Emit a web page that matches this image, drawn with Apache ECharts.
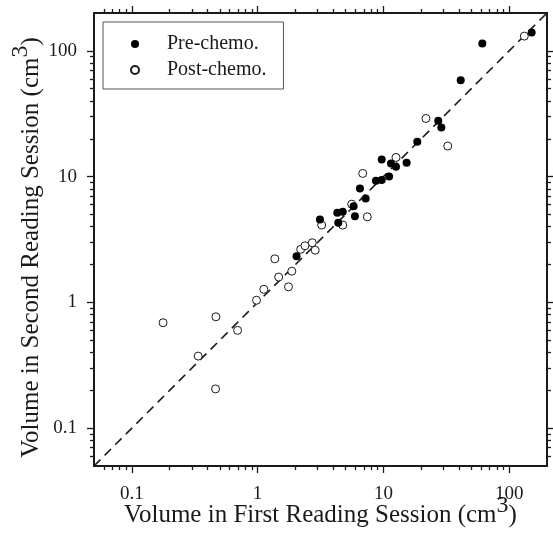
<!DOCTYPE html>
<html>
<head>
<meta charset="utf-8">
<script src="https://cdn.jsdelivr.net/npm/echarts@6/dist/echarts.min.js"></script>
<style>
  html, body { margin: 0; padding: 0; background: #fff; }
  #chart { width: 553px; height: 536px; }
</style>
</head>
<body>
<div id="chart"></div>
<script>
// volumes (cm3): [first reading, second reading]
const preChemo = [
  [2.04, 2.33], [3.13, 4.57], [4.3, 5.16], [4.75, 5.25], [4.38, 4.29],
  [5.94, 4.85], [5.8, 5.8], [7.23, 6.71], [6.51, 8.06], [8.73, 9.26],
  [9.7, 9.4], [11.1, 10.0], [9.7, 13.7], [11.5, 12.7], [12.6, 12.0],
  [15.3, 12.9], [18.6, 18.9], [27.3, 27.8], [28.9, 24.6], [41.2, 58.5],
  [61.2, 114.5], [151, 140]
]
const postChemo = [
  [0.177, 0.689], [0.466, 0.768], [0.693, 0.599], [0.337, 0.374], [0.463, 0.205],
  [0.98, 1.04], [1.12, 1.27], [1.37, 2.22], [1.47, 1.59], [1.76, 1.33],
  [1.87, 1.77], [2.2, 2.64], [2.38, 2.82], [2.72, 2.98], [2.87, 2.6],
  [3.23, 4.12], [4.75, 4.12], [5.6, 6.04], [7.45, 4.79], [6.85, 10.6],
  [12.6, 14.2], [21.8, 29.0], [32.5, 17.5], [132, 131]
]
const identityLine = [[0.05, 0.05], [200, 200]]
const axisMin = 0.05
const axisMax = 200
const majorTicks = [0.1, 1, 10, 100]
const minorTicks = [
  0.06, 0.07, 0.08, 0.09,
  0.2, 0.3, 0.4, 0.5, 0.6, 0.7, 0.8, 0.9,
  2, 3, 4, 5, 6, 7, 8, 9,
  20, 30, 40, 50, 60, 70, 80, 90
]

const FONT = 'Liberation Serif'
const INK = '#1a1a1a'

// axis title with a raised "3"; the bottom padding of the sup token sets how high it sits
function nameStyle(raise, padding) {
  return {
    fontFamily: FONT,
    fontSize: 25,
    color: INK,
    padding: padding,
    rich: {
      sup: { fontFamily: FONT, fontSize: 24, color: INK, padding: [0, 0, raise, 0] }
    }
  }
}

function logAxis(position, major, labelled) {
  return {
    type: 'log',
    logBase: 10,
    min: axisMin,
    max: axisMax,
    position: position,
    gridIndex: 0,
    splitLine: { show: false },
    axisLine: { show: major, onZero: false, lineStyle: { color: INK, width: 2 } },
    axisTick: {
      show: true,
      inside: false,
      length: major ? 7 : 4,
      customValues: major ? majorTicks : minorTicks,
      lineStyle: { color: INK, width: 1.3 }
    },
    axisLabel: {
      show: labelled,
      customValues: majorTicks,
      fontFamily: FONT,
      fontSize: 19,
      color: INK
    }
  }
}

const xAxes = [
  logAxis('bottom', true, true),
  logAxis('bottom', false, false),
  logAxis('top', true, false),
  logAxis('top', false, false)
]
Object.assign(xAxes[0], {
  name: 'Volume in First Reading Session (cm{sup|3})',
  nameLocation: 'middle',
  nameGap: 28,
  nameMoveOverlap: false,
  nameTextStyle: nameStyle(18, [0, 0, 0, 0])
})
xAxes[0].axisLabel.margin = 19

const yAxes = [
  logAxis('left', true, true),
  logAxis('left', false, false),
  logAxis('right', true, false),
  logAxis('right', false, false)
]
Object.assign(yAxes[0], {
  name: 'Volume in Second Reading Session (cm{sup|3})',
  nameLocation: 'middle',
  nameGap: 41,
  nameMoveOverlap: false,
  nameTextStyle: nameStyle(20, [0, 16, 0, 0])
})
yAxes[0].axisLabel.margin = 17

const chart = echarts.init(document.getElementById('chart'), null, { renderer: 'canvas' })
chart.setOption({
  animation: false,
  backgroundColor: '#fff',
  grid: { left: 94, right: 6, top: 13, bottom: 70, containLabel: false, outerBoundsMode: 'none' },
  xAxis: xAxes,
  yAxis: yAxes,
  legend: {
    data: ['Pre-chemo.', 'Post-chemo.'],
    orient: 'vertical',
    left: 103,
    top: 22,
    itemWidth: 54,
    itemHeight: 8,
    itemGap: 6,
    padding: [12, 17, 9, 27],
    borderColor: '#555',
    borderWidth: 1,
    backgroundColor: '#fff',
    textStyle: { fontFamily: FONT, fontSize: 20, color: INK }
  },
  series: [
    {
      type: 'line',
      data: identityLine,
      symbol: 'none',
      silent: true,
      lineStyle: { color: INK, width: 1.6, type: [9, 6] },
      z: 1
    },
    {
      name: 'Post-chemo.',
      type: 'scatter',
      data: postChemo,
      symbol: 'circle',
      symbolSize: 8,
      itemStyle: { color: '#fff', borderColor: INK, borderWidth: 1, opacity: 1 },
      z: 2
    },
    {
      name: 'Pre-chemo.',
      type: 'scatter',
      data: preChemo,
      symbol: 'circle',
      symbolSize: 8,
      itemStyle: { color: '#000', opacity: 1 },
      z: 3
    }
  ]
})
</script>
</body>
</html>
